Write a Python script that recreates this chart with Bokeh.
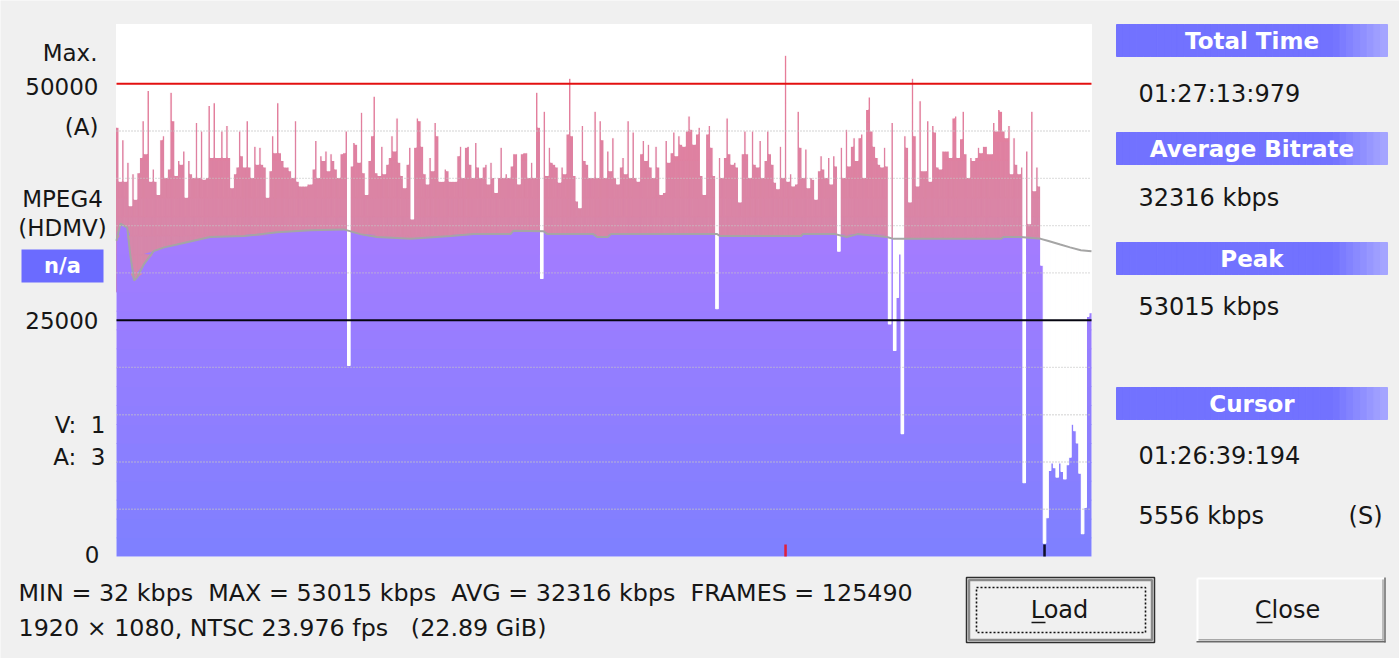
import numpy as np
from bokeh.plotting import figure
from bokeh.models import Range1d
from bokeh.core.properties import value
from bokeh.embed import file_html
from bokeh.resources import INLINE

# ---------------- data (kbps per sample) ----------------
bitrate_part1 = [
    45400, 39700, 44100, 39700, 41700, 37100, 40500, 37800, 40600, 42200,
    46100, 42600, 49300, 39700, 41000, 39700, 38300, 44100, 44500, 40100,
    41000, 49100, 46100, 40300, 41900, 41500, 42900, 38000, 41900, 40500,
    40100, 45900, 40100, 45000, 39900, 40100, 47700, 42200, 48000, 42200,
    42200, 45000, 42200, 45600, 42200, 39000, 40500, 41200, 45000, 42400,
    41200, 46100, 41200, 40100, 43400, 41500, 43300, 41500, 41200, 38000,
    40800, 44500, 42700, 48000, 42700, 41900, 41200, 41200, 40800, 40100,
    46100, 39700, 39200, 39200, 39200, 39400, 39400, 41000, 44000, 40100,
    42400, 41900, 42900, 40800, 42600, 41900, 41000, 40100, 42600, 42700,
    45000, 20200, 41300, 43800, 43600, 41700, 47000, 40600, 38300, 41900,
    44500, 48700, 40600, 40300, 43400, 40500, 41500, 42200, 44500, 42900,
    46400, 41700, 40300, 39000, 41500, 43300, 35700, 43300, 46400, 46100,
    43400, 40500, 39400, 42200, 40800, 45900, 44500, 39700, 39700, 41000,
]
bitrate_part2 = [
    40800, 39700, 39700, 39700, 42400, 43400, 40100, 43300, 43400, 41500,
    40100, 43800, 41200, 40100, 41200, 41500, 39400, 41700, 40100, 38500,
    40100, 43300, 40100, 40500, 40100, 41300, 42600, 42600, 39400, 42600,
    42700, 42700, 40100, 41700, 40100, 49100, 45400, 29400, 47100, 40300,
    43300, 41700, 41500, 41200, 39600, 41200, 40500, 44700, 50600, 44500,
    40300, 37600, 36900, 45600, 41900, 41500, 40100, 40100, 47100, 40100,
    46100, 44100, 40100, 42900, 40800, 44300, 40100, 39400, 41200, 42200,
    40500, 46100, 40100, 44900, 40100, 39700, 42600, 44000, 41900, 43600,
    41200, 40100, 43400, 41200, 38300, 38500, 44000, 41700, 42700, 44900,
    42400, 44500, 43600, 43400, 45000, 46600, 45200, 43600, 44700, 45400,
    40300, 38300, 44700, 45600, 43300, 40300, 26200, 42200, 40100, 42200,
    46400, 42600, 41500, 41700, 41200, 37500, 42600, 45000, 42600, 40100,
    45000, 41500, 41200, 44000, 40100, 41900, 45000, 42600, 41500, 39600,
    38900, 43400, 40100, 53015, 39700,
]
bitrate_part3 = [
    40500, 39200, 39400, 47100, 43300, 40100, 43100, 39000, 40100, 39900,
    37800, 40800, 42400, 41000, 40100, 42200, 39400, 42400, 41300, 32300,
    43300, 40100, 45200, 41300, 43400, 44300, 41900, 44300, 44700, 40100,
    47300, 48600, 45000, 43400, 42200, 41500, 41200, 43300, 41300, 24600,
    45900, 21800, 27400, 32000, 13000, 44500, 43300, 37500, 50600, 44500,
    39200, 48200, 40800, 40800, 46100, 39700, 45600, 44900, 41200, 41000,
    42900, 42900, 42900, 42200, 46400, 46600, 42200, 44200, 47100, 42600,
    40100, 42200, 41900, 42200, 43300, 42700, 43400, 43400, 42600, 42600,
    45900, 45000, 47300, 47100, 45000, 44300, 45600, 40500, 44300, 41500,
    40500, 41200, 7800, 42900, 35200, 47100, 38700, 41200, 39200, 30800,
]
bitrate_tail = [
    1400, 4100, 9100, 9900, 9400, 8400, 9900, 9000, 8200, 9700,
    10500, 14000, 13300, 12000, 8800, 2400, 5200, 25400, 25800,
]

# running average (gray line): position as fraction of running time, kbps
avg_pos = [0.000, 0.004, 0.011, 0.014, 0.018, 0.021, 0.028, 0.038, 0.049, 0.062,
           0.096, 0.131, 0.165, 0.199, 0.233, 0.250, 0.267, 0.302, 0.343, 0.366,
           0.404, 0.407, 0.438, 0.442, 0.489, 0.493, 0.504, 0.507, 0.616, 0.619,
           0.702, 0.704, 0.737, 0.749, 0.760, 0.790, 0.797, 0.907, 0.910, 0.927,
           0.948, 0.955, 0.968, 0.978, 0.989, 1.000]
avg_kbps = [33400, 35200, 34800, 32000, 29200, 29500, 30900, 32300, 32700, 33000,
            33800, 33900, 34300, 34500, 34600, 34100, 33800, 33600, 33900, 34100,
            34100, 34450, 34400, 34100, 34100, 33800, 33800, 34100, 34100, 33900,
            33900, 34100, 34100, 33800, 34100, 33800, 33600, 33600, 33800, 33800,
            33600, 33400, 33000, 32700, 32400, 32300]

grid_kbps = [5000, 10000, 15000, 20000, 30000, 35000, 40000, 45000]
max_kbps = 50000
half_kbps = 25000

NB = "\u00a0"
left_right_labels = ["Max.", "50000", "(A)", "25000", "V:" + NB + NB + "1", "A:" + NB + NB + "3", "0"]
left_center_labels = ["MPEG4", "(HDMV)"]
badge_label = "n/a"
panel_headers = ["Total Time", "Average Bitrate", "Peak", "Cursor"]
panel_values = ["01:27:13:979", "32316 kbps", "53015 kbps", "01:26:39:194", "5556 kbps"]
cursor_flag = "(S)"
summary_lines = [("MIN = 32 kbps" + NB + " MAX = 53015 kbps" + NB + " AVG = 32316 kbps" + NB +
                  " FRAMES = 125490"),
                 "1920 \u00d7 1080, NTSC 23.976 fps" + NB + NB + " (22.89 GiB)"]
button_labels = ["Load", "Close"]

# ---------------- derived ----------------
bitrate = bitrate_part1 + bitrate_part2 + bitrate_part3 + bitrate_tail
N = len(bitrate)
cursor_index = len(bitrate_part1) + len(bitrate_part2) + len(bitrate_part3)
vals = np.array(bitrate, dtype=float)
idx = np.arange(N)
peak_index = int(np.argmax(vals))
avg_x = np.array(avg_pos) * N - 0.5
avg_v = np.array(avg_kbps, dtype=float)

# ---------------- layout (page pixels) ----------------
OFF = 0
W, H = 1399, 658
CH_L, CH_R, CH_T, CH_B = 116, 1091, 24, 556
PX_MAX = 83.3
kpx = (CH_B - PX_MAX) / max_kbps          # px per kbps
bw = (CH_R - CH_L) / N                    # px per sample
top_kbps = (CH_B - CH_T) / kpx

FONT = value("DejaVu Sans")
TXT = "#161616"

p = figure(width=W, height=H, x_range=Range1d(OFF, OFF + W), y_range=Range1d(OFF + H, OFF),
           x_axis_type=None, y_axis_type=None, output_backend="svg", toolbar_location=None,
           min_border=0, background_fill_color="#f0f0f0", border_fill_color="#f0f0f0",
           outline_line_color=None)
p.extra_x_ranges = {"cx": Range1d((OFF - CH_L) / bw - 0.5, (OFF + W - CH_L) / bw - 0.5)}
p.extra_y_ranges = {"cy": Range1d((CH_B - (OFF + H)) / kpx, (CH_B - OFF) / kpx)}
C = dict(x_range_name="cx", y_range_name="cy")


def hexc(rgb):
    return "#%02x%02x%02x" % tuple(int(round(c)) for c in rgb)


def lerp(a, b, t):
    t = max(0.0, min(1.0, t))
    return tuple(a[i] + (b[i] - a[i]) * t for i in range(3))


# chart background
p.quad(left=[CH_L], right=[CH_R], top=[CH_T], bottom=[CH_B], fill_color="white", line_color=None)

# pink part of the bars (gradient bands)
PINK_LO, PINK_HI = (214, 135, 170), (231, 124, 152)
step = 2000
for lo in range(28000, 56000, step):
    hi = lo + step
    m = vals > lo
    if not m.any():
        continue
    col = hexc(lerp(PINK_LO, PINK_HI, (lo + step / 2 - 33000) / 19000))
    p.vbar(x=idx[m], width=1.0, bottom=lo - (0 if lo == 28000 else 80), top=np.minimum(vals[m], hi),
           fill_color=col, line_color=col, line_width=1.0, **C)

# purple part below the running average (gradient bands)
PUR_LO, PUR_HI = (126, 128, 255), (164, 124, 255)
for lo in range(0, 36000, step):
    hi = lo + step
    y2 = np.clip(avg_v, lo, hi)
    y1 = np.where(avg_v > lo, max(lo - 80, 0), lo)
    col = hexc(lerp(PUR_LO, PUR_HI, (lo + step / 2) / 34000))
    p.varea(x=avg_x, y1=y1, y2=y2, fill_color=col, **C)

# empty part above every bar
p.vbar(x=idx, width=1.0, bottom=vals, top=top_kbps, fill_color="white", line_color="white",
       line_width=1.1, **C)

# running average line
p.line(avg_x, avg_v, line_color="#a5a5a5", line_width=2, **C)

# dotted grid
p.segment(x0=[-0.5] * len(grid_kbps), x1=[N - 0.5] * len(grid_kbps), y0=grid_kbps, y1=grid_kbps,
          line_color="#c4c4c4", line_width=1.4, line_dash="1 2", **C)

# max and half lines
p.segment(x0=[-0.5], x1=[N - 0.5], y0=[max_kbps], y1=[max_kbps], line_color="#e31010", line_width=2, **C)
p.segment(x0=[-0.5], x1=[N - 0.5], y0=[half_kbps], y1=[half_kbps], line_color="#050510", line_width=2, **C)

# peak / cursor markers
tick_h = 12 / kpx
p.vbar(x=[peak_index], width=1.0, bottom=0, top=tick_h, fill_color="#e0203c", line_color=None, **C)
p.vbar(x=[cursor_index], width=1.0, bottom=0, top=tick_h, fill_color="#10102a", line_color=None, **C)

# ---------------- left labels ----------------
p.text(x=[97, 98, 98, 98, 105, 105, 99], y=[52, 86, 126, 320, 424, 456, 554], text=left_right_labels,
       text_font=FONT, text_font_size="23px", text_align="right", text_baseline="middle", text_color=TXT)
p.text(x=[62, 62], y=[198, 227], text=left_center_labels,
       text_font=FONT, text_font_size="23px", text_align="center", text_baseline="middle", text_color=TXT)
p.quad(left=[21], right=[103], top=[249], bottom=[282], fill_color="#6b6bff", line_color=None)
p.text(x=[62], y=[265], text=[badge_label], text_font=FONT, text_font_size="21px", text_font_style="bold",
       text_align="center", text_baseline="middle", text_color="white")

# ---------------- right panel ----------------
HX0, HX1 = 1116, 1387
header_rows = [(24, 56), (132, 164), (242, 274), (387, 419)]
nstrip = 40
for (y0, y1) in header_rows:
    lefts, rights, cols = [], [], []
    for i in range(nstrip):
        t = (i + 0.5) / nstrip
        if t < 0.80:
            c = (114, 114, 255)
        else:
            c = lerp((114, 114, 255), (168, 168, 255), (t - 0.80) / 0.20)
        lefts.append(HX0 + (HX1 - HX0) * i / nstrip)
        rights.append(HX0 + (HX1 - HX0) * (i + 1) / nstrip)
        cols.append(hexc(c))
    p.quad(left=lefts, right=rights, top=[y0] * nstrip, bottom=[y1] * nstrip, fill_color=cols,
           line_color=cols, line_width=1.0)
p.text(x=[(HX0 + HX1) / 2] * 4, y=[40, 148, 258, 403], text=panel_headers, text_font=FONT,
       text_font_size="23px", text_font_style="bold", text_align="center", text_baseline="middle",
       text_color="white")
p.text(x=[1138] * 5, y=[93, 197, 306, 455, 515], text=panel_values, text_font=FONT, text_font_size="24px",
       text_align="left", text_baseline="middle", text_color=TXT)
p.text(x=[1382], y=[515], text=[cursor_flag], text_font=FONT, text_font_size="24px",
       text_align="right", text_baseline="middle", text_color=TXT)

# ---------------- bottom summary ----------------
p.text(x=[18, 18], y=[592, 627], text=summary_lines, text_font=FONT, text_font_size="23.8px",
       text_align="left", text_baseline="middle", text_color=TXT)

# ---------------- buttons ----------------
p.quad(left=[966], right=[1154], top=[577], bottom=[642], fill_color="#f0f0f0", line_color="#2e2e2e",
       line_width=1.5)
p.quad(left=[968.5], right=[1151.5], top=[579.5], bottom=[639.5], fill_color=None, line_color="#8a8a8a",
       line_width=2.5)
p.quad(left=[976], right=[1145], top=[587], bottom=[632], fill_color=None, line_color="#111111",
       line_width=1.6, line_dash="2 2")
p.quad(left=[1196], right=[1385], top=[577], bottom=[642], fill_color="#f1f1f1", line_color=None)
p.segment(x0=[1197, 1197], y0=[578, 578], x1=[1384, 1197], y1=[578, 641], line_color="white", line_width=2)
p.segment(x0=[1196, 1384.5], y0=[641.3, 577], x1=[1385, 1384.5], y1=[641.3, 642], line_color="#6a6a6a",
          line_width=1.5)
p.segment(x0=[1198, 1382.5], y0=[639.3, 579], x1=[1383, 1382.5], y1=[639.3, 640], line_color="#a8a8a8",
          line_width=1.5)
p.text(x=[1059, 1287], y=[609, 609], text=button_labels, text_font=FONT, text_font_size="24px",
       text_align="center", text_baseline="middle", text_color=TXT)
p.segment(x0=[1031, 1256], y0=[622, 622], x1=[1045, 1272], y1=[622, 622], line_color=TXT, line_width=1.5)

open("out.html", "w").write(file_html(p, INLINE))
